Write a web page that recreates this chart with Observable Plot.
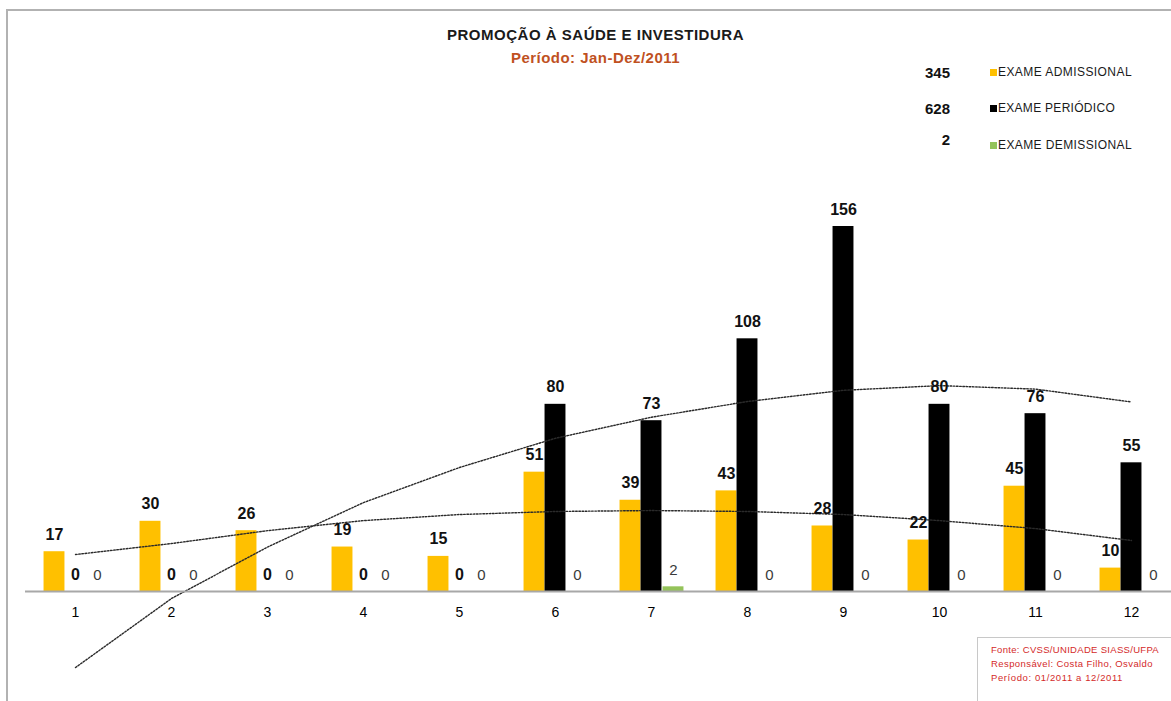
<!DOCTYPE html>
<html><head><meta charset="utf-8">
<script src="https://cdn.jsdelivr.net/npm/d3@7"></script>
<script src="https://cdn.jsdelivr.net/npm/@observablehq/plot@0.6"></script>
<style>
body{margin:0;background:#fff;}
#wrap{position:relative;width:1171px;height:701px;overflow:hidden;background:#fff;font-family:"Liberation Sans",Arial,sans-serif;}
#frame{position:absolute;left:6px;top:9px;width:1300px;height:800px;border-left:2px solid #b2b2b2;border-top:2px solid #b2b2b2;}
#chart{position:absolute;left:0;top:0;}
.t{position:absolute;white-space:nowrap;display:inline-block;line-height:1;}
#title{left:447px;top:27px;font-size:15px;font-weight:bold;color:#1a1a1a;}
#subtitle{left:511px;top:50px;font-size:15px;font-weight:bold;color:#C0511F;}
.lv{font-size:15px;font-weight:bold;color:#111;}
.ln{font-size:12px;color:#1a1a1a;}
.sw{position:absolute;width:7px;height:7px;}
#footbox{position:absolute;left:977px;top:637px;width:300px;height:100px;border:1.5px solid #c8c8c8;background:#fff;}
.ft{font-size:9.5px;color:#D42A2A;}
</style></head><body>
<div id="wrap">
  <div id="frame"></div>
  <div id="chart"></div>
  <div id="title" class="t">PROMOÇÃO À SAÚDE E INVESTIDURA</div>
  <div id="subtitle" class="t">Período: Jan-Dez/2011</div>
  <div id="legend"></div>
  <div id="footbox"></div>
  <div id="foot"></div>
</div>
<script>
// ---- data ----
const months = [1, 2, 3, 4, 5, 6, 7, 8, 9, 10, 11, 12];
const admissional = [17, 30, 26, 19, 15, 51, 39, 43, 28, 22, 45, 10];
const periodico   = [0, 0, 0, 0, 0, 80, 73, 108, 156, 80, 76, 55];
const demissional = [0, 0, 0, 0, 0, 0, 2, 0, 0, 0, 0, 0];
// trend lines
const trendAdmissional = [15.8, 20.5, 26, 30.3, 32.9, 34.2, 34.6, 34.2, 32.9, 30.3, 26.9, 21.8];
const trendPeriodico   = [-32.5, -3, 19, 38, 53, 65.5, 74.5, 81.2, 86, 88, 86.5, 81];
const seriesNames  = ["EXAME ADMISSIONAL", "EXAME PERIÓDICO", "EXAME DEMISSIONAL"];
const seriesTotals = [345, 628, 2];
const seriesColors = ["#FFC000", "#000000", "#94C35A"];
const footLines = ["Fonte: CVSS/UNIDADE SIASS/UFPA", "Responsável: Costa Filho, Osvaldo", "Período: 01/2011 a 12/2011"];

const data = months.map((m, i) => ({
  month: m, adm: admissional[i], per: periodico[i], dem: demissional[i],
  tA: trendAdmissional[i], tP: trendPeriodico[i]
}));

const barW = 21, step = 96.08, inset = (step - barW) / 2;
const FONT = '"Liberation Sans",Arial,sans-serif';

const chart = Plot.plot({
  width: 1171, height: 701,
  marginLeft: 25, marginRight: 0, marginTop: 226, marginBottom: 110,
  style: {background: "transparent", overflow: "visible", fontFamily: FONT, fontSize: "13px"},
  x: {type: "band", domain: months, range: [26, 1179], padding: 0, label: null, axis: null},
  y: {domain: [0, 156], axis: null},
  marks: [
    Plot.barY(data, {x: "month", y: "adm", fill: seriesColors[0], dx: -21, insetLeft: inset, insetRight: inset}),
    Plot.barY(data, {x: "month", y: "per", fill: seriesColors[1], insetLeft: inset, insetRight: inset}),
    Plot.barY(data, {x: "month", y: "dem", fill: seriesColors[2], dx: 22, insetLeft: inset, insetRight: inset}),
    Plot.line(data, {x: "month", y: "tA", stroke: "#2a2a2a", strokeWidth: 1.4, strokeDasharray: "1.6,1.6"}),
    Plot.line(data, {x: "month", y: "tP", stroke: "#2a2a2a", strokeWidth: 1.4, strokeDasharray: "1.6,1.6"}),
    Plot.ruleY([0], {stroke: "#a8a8a8", strokeWidth: 2}),
    // category tick labels
    Plot.text(months, {x: d => d, y: () => 0, text: d => String(d), dy: 21, lineAnchor: "middle", fontSize: 14, fill: "#000"}),
    Plot.text(data, {x: "month", y: "adm", text: d => String(d.adm), dx: -21, dy: -12, lineAnchor: "bottom", fontSize: 16, fontWeight: "bold", fill: "#111"}),
    Plot.text(data, {x: "month", y: "per", text: d => String(d.per), dy: -12, lineAnchor: "bottom", fontSize: 16, fontWeight: "bold", fill: "#111"}),
    Plot.text(data, {x: "month", y: "dem", text: d => String(d.dem), dx: 22, dy: -12, lineAnchor: "bottom", fontSize: 15, fill: "#3a3a3a"})
  ]
});
document.getElementById("chart").appendChild(chart);

// ---- legend ----
const legend = document.getElementById("legend");
const rowY = [72, 108, 145];
const valY = [72, 108, 139];
seriesNames.forEach((name, i) => {
  const v = document.createElement("div");
  v.className = "t lv"; v.textContent = seriesTotals[i];
  legend.appendChild(v);
  const r = v.getBoundingClientRect();
  v.style.left = (950 - r.width) + "px";
  v.style.top = (valY[i] - r.height / 2) + "px";
  const sw = document.createElement("div");
  sw.className = "sw"; sw.style.background = seriesColors[i];
  sw.style.left = "990px"; sw.style.top = (rowY[i] - 3.5) + "px";
  legend.appendChild(sw);
  const n = document.createElement("div");
  n.className = "t ln"; n.textContent = name;
  legend.appendChild(n);
  const rn = n.getBoundingClientRect();
  n.style.left = "998px"; n.style.top = (rowY[i] - rn.height / 2) + "px";
});

// ---- footer ----
const foot = document.getElementById("foot");
const footY = [650, 664, 678];
footLines.forEach((s, i) => {
  const d = document.createElement("div");
  d.className = "t ft"; d.textContent = s;
  foot.appendChild(d);
  const r = d.getBoundingClientRect();
  d.style.left = "991px"; d.style.top = (footY[i] - r.height / 2) + "px";
});

// fit widths of text lines to the reference widths
function fitWidth(el, target) {
  const w = el.getBoundingClientRect().width;
  const n = el.textContent.length;
  el.style.letterSpacing = ((target - w) / n) + "px";
}
fitWidth(document.getElementById("title"), 297);
fitWidth(document.getElementById("subtitle"), 169);
const names = legend.querySelectorAll(".ln");
[134, 117, 134].forEach((w, i) => fitWidth(names[i], w));
const fts = foot.querySelectorAll(".ft");
[168, 162, 132].forEach((w, i) => fitWidth(fts[i], w));
</script>
</body></html>
